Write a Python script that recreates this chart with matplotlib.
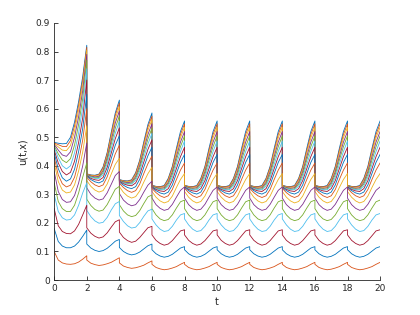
import numpy as np
import matplotlib
matplotlib.use("Agg")
import matplotlib.pyplot as plt
from matplotlib.ticker import FuncFormatter

# knot times inside one period of length 2 (s=0 is just after the drop)
s_knots = [0, 0.25, 0.5, 0.75, 1.0, 1.25, 1.5, 1.75, 2.0]
period = 2.0
n_periods = 10

# u values per line (bottom line x=0 is identically zero)
# first period, t in [0, 2]
p1 = [
    [.100, .070, .060, .056, .055, .057, .063, .073, .085],
    [.180, .135, .119, .113, .113, .119, .133, .153, .175],
    [.250, .190, .170, .163, .162, .172, .195, .228, .262],
    [.300, .240, .218, .210, .212, .228, .262, .305, .340],
    [.340, .275, .250, .240, .240, .262, .305, .360, .410],
    [.380, .310, .282, .272, .274, .296, .340, .400, .480],
    [.410, .345, .315, .305, .308, .333, .382, .448, .540],
    [.430, .368, .337, .326, .332, .360, .415, .490, .600],
    [.445, .390, .358, .346, .354, .388, .450, .530, .650],
    [.455, .410, .380, .368, .377, .416, .482, .568, .700],
    [.465, .428, .400, .389, .400, .445, .515, .605, .740],
    [.470, .442, .420, .411, .425, .473, .545, .635, .770],
    [.475, .455, .438, .433, .449, .500, .572, .662, .790],
    [.478, .466, .455, .453, .471, .522, .595, .684, .805],
    [.480, .474, .468, .467, .488, .540, .612, .700, .815],
    [.482, .479, .477, .478, .500, .553, .625, .712, .822],
]
# second period, t in [2, 4]
p2 = [
    [.070, .059, .054, .051, .053, .057, .062, .070, .078],
    [.126, .112, .104, .100, .103, .111, .123, .136, .142],
    [.183, .164, .153, .147, .151, .165, .185, .204, .211],
    [.244, .222, .207, .199, .202, .219, .245, .267, .275],
    [.283, .261, .247, .241, .245, .264, .291, .318, .328],
    [.323, .300, .287, .280, .284, .305, .335, .366, .380],
    [.348, .328, .315, .308, .313, .336, .371, .405, .426],
    [.360, .344, .333, .327, .333, .361, .400, .442, .472],
    [.364, .352, .344, .340, .347, .378, .425, .472, .505],
    [.366, .356, .351, .349, .359, .394, .444, .495, .533],
    [.367, .360, .356, .356, .369, .407, .460, .514, .556],
    [.368, .362, .358, .359, .376, .418, .476, .532, .575],
    [.369, .364, .361, .363, .382, .427, .488, .550, .592],
    [.370, .366, .364, .366, .388, .435, .500, .565, .607],
    [.371, .367, .366, .369, .393, .442, .510, .577, .620],
    [.372, .368, .367, .371, .396, .446, .517, .585, .630],
]
# third period, t in [4, 6]
p3 = [
    [.060, .049, .044, .041, .043, .047, .052, .060, .067],
    [.114, .100, .092, .088, .091, .098, .109, .120, .126],
    [.168, .149, .138, .132, .136, .149, .166, .183, .188],
    [.226, .205, .190, .182, .185, .201, .223, .242, .248],
    [.264, .242, .228, .222, .226, .243, .268, .291, .298],
    [.303, .280, .267, .260, .264, .282, .308, .332, .346],
    [.327, .307, .294, .287, .292, .312, .343, .372, .395],
    [.339, .324, .313, .307, .313, .336, .373, .407, .434],
    [.343, .332, .324, .320, .327, .353, .395, .435, .465],
    [.346, .337, .332, .330, .340, .369, .413, .457, .491],
    [.347, .340, .336, .336, .349, .382, .429, .476, .514],
    [.348, .342, .338, .339, .356, .392, .444, .493, .532],
    [.349, .344, .341, .343, .362, .401, .456, .509, .547],
    [.350, .346, .344, .346, .368, .409, .468, .524, .562],
    [.351, .347, .346, .349, .373, .416, .478, .536, .574],
    [.352, .348, .347, .351, .376, .420, .484, .544, .585],
]
# periodic steady state, t in [6, 20]
ps = [
    [.055, .044, .039, .036, .038, .042, .047, .055, .062],
    [.106, .092, .084, .080, .083, .090, .101, .112, .117],
    [.158, .139, .128, .122, .126, .138, .155, .172, .176],
    [.214, .193, .178, .170, .173, .188, .210, .228, .233],
    [.250, .228, .214, .208, .212, .228, .252, .274, .280],
    [.287, .264, .251, .244, .248, .265, .290, .314, .326],
    [.310, .290, .277, .270, .275, .294, .324, .352, .373],
    [.321, .306, .295, .289, .295, .317, .352, .385, .410],
    [.324, .313, .305, .301, .308, .333, .373, .412, .440],
    [.326, .317, .312, .310, .320, .348, .390, .432, .465],
    [.327, .320, .316, .316, .329, .360, .405, .450, .487],
    [.328, .322, .318, .319, .336, .370, .420, .467, .505],
    [.329, .324, .321, .323, .342, .379, .432, .483, .520],
    [.330, .326, .324, .326, .348, .387, .444, .498, .535],
    [.331, .327, .326, .329, .353, .394, .454, .510, .547],
    [.332, .328, .327, .331, .356, .398, .461, .520, .557],
]

colors = ["#0072bd", "#d95319", "#edb120", "#7e2f8e",
          "#77ac30", "#4dbeee", "#a2142f"]

tables = [p1, p2, p3] + [ps] * (n_periods - 3)
t_all = np.concatenate([p * period + np.array(s_knots) for p in range(n_periods)])
n_lines = len(ps) + 1

fig = plt.figure(figsize=(4.2, 3.15), dpi=100)
ax = fig.add_axes([0.129, 0.111, 0.776, 0.816])

# top line first, zero line last (same order as the colour cycle in the figure)
for i in range(n_lines):
    k = n_lines - 1 - i
    if k == 0:
        u = np.zeros_like(t_all)
    else:
        u = np.concatenate([np.array(tab[k - 1]) for tab in tables])
    ax.plot(t_all, u, color=colors[i % 7], lw=0.6)

ax.set_xlim(0, 20)
ax.set_ylim(0, 0.9)
ax.set_xticks(np.arange(0, 21, 2))
ax.set_yticks(np.arange(0, 0.91, 0.1))
ax.yaxis.set_major_formatter(FuncFormatter(lambda v, p: f"{v:g}"))
for side in ["top", "right"]:
    ax.spines[side].set_visible(False)
for side in ["left", "bottom"]:
    ax.spines[side].set_color("#262626")
    ax.spines[side].set_linewidth(0.6)
ax.tick_params(direction="in", length=3, width=0.6, colors="#262626",
               labelsize=6.5, pad=3)
ax.set_xlabel("t", fontsize=7, color="#262626", labelpad=3)
ax.set_ylabel("u(t,x)", fontsize=7, color="#262626", labelpad=6)

fig.savefig("out.png", dpi=100)
